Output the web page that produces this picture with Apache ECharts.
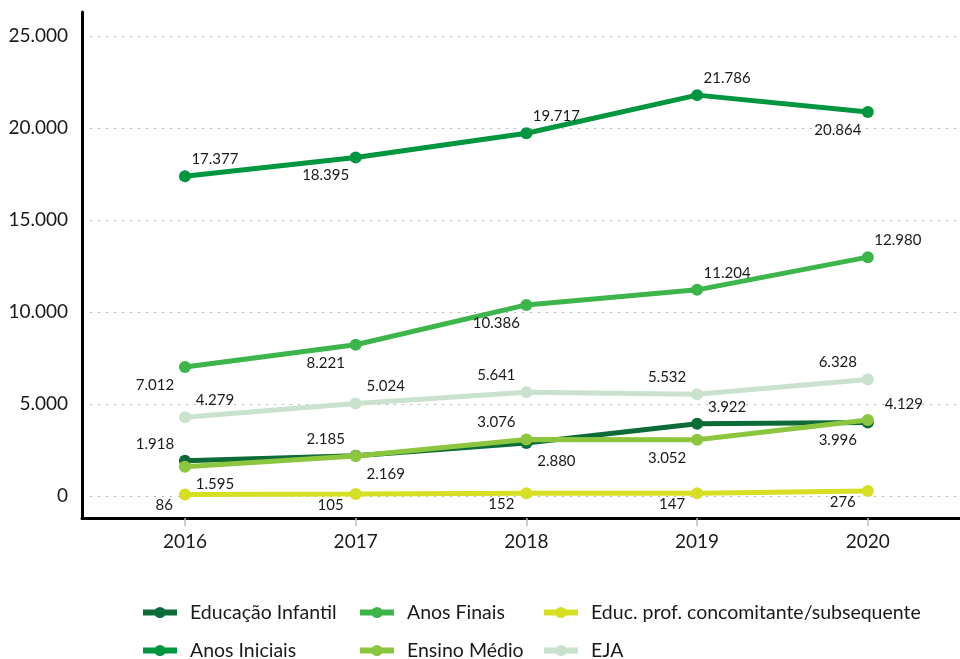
<!DOCTYPE html>
<html>
<head>
<meta charset="utf-8">
<script src="https://cdn.jsdelivr.net/npm/echarts@6/dist/echarts.min.js"></script>
<style>
  html, body { margin: 0; padding: 0; background: #fff; }
  #chart { width: 960px; height: 659px; }
</style>
</head>
<body>
<div id="chart"></div>
<script>
// Matrículas por etapa de ensino, 2016–2020
const years = [2016, 2017, 2018, 2019, 2020];
const yTicks = [0, 5000, 10000, 15000, 20000, 25000];

const educacaoInfantil = [1918, 2185, 2880, 3922, 3996];
const anosIniciais     = [17377, 18395, 19717, 21786, 20864];
const anosFinais       = [7012, 8221, 10386, 11204, 12980];
const ensinoMedio      = [1595, 2169, 3076, 3052, 4129];
const educProf         = [86, 105, 152, 147, 276];
const eja              = [4279, 5024, 5641, 5532, 6328];

const seriesNames = [
  'Educação Infantil', 'Anos Iniciais', 'Anos Finais',
  'Ensino Médio', 'Educ. prof. concomitante/subsequente', 'EJA'
];
const seriesValues = [educacaoInfantil, anosIniciais, anosFinais, ensinoMedio, educProf, eja];
const seriesColors = ['#0d6b38', '#00963f', '#3cb54a', '#8cc63f', '#d6df23', '#c9e2cd'];

// where each value label sits around its point
const labelSpots = [
  ['ul', 'ul', 'dr', 'ur', 'dl'],
  ['ur', 'dl', 'ur', 'ur', 'dl'],
  ['dl', 'dl', 'dl', 'ur', 'ur'],
  ['dr', 'dr', 'ul', 'dl', 'ur2'],
  ['bl', 'bl', 'bl', 'bl', 'bl'],
  ['ur', 'ur', 'ul', 'ul', 'ul']
];
const spotStyle = {
  ur:  { offset: [30, -17] },
  ul:  { offset: [-30, -17] },
  dr:  { offset: [30, 18] },
  dl:  { offset: [-30, 18] },
  ur2: { offset: [36, -16] },
  bl:  { offset: [-12, 11], align: 'right' }
};

const fmt = v => v.toLocaleString('de-DE');

const series = seriesNames.map((name, si) => ({
  name,
  type: 'line',
  color: seriesColors[si],
  symbol: 'circle',
  symbolSize: 12,
  lineStyle: { width: 5 },
  z: 2 + (si === 3 ? 1 : 0),
  data: seriesValues[si].map((v, i) => {
    const s = spotStyle[labelSpots[si][i]];
    return {
      value: [years[i], v],
      label: {
        show: true,
        position: 'inside',
        offset: s.offset,
        align: s.align || 'center',
        verticalAlign: 'middle',
        formatter: () => fmt(v),
        color: '#1a1a1a',
        fontSize: 15,
        fontFamily: 'Lato'
      }
    };
  })
}));

// three two-row legend columns under the plot
const legendBase = {
  orient: 'vertical',
  top: 602,
  height: 90,
  padding: 0,
  itemWidth: 34,
  itemHeight: 14,
  itemGap: 17,
  lineStyle: { width: 6 },
  textStyle: { fontFamily: 'Lato', fontSize: 19.5, lineHeight: 21, color: '#1a1a1a', padding: [0, 0, 0, 8] }
};

const chart = echarts.init(document.getElementById('chart'), null, { renderer: 'canvas' });
chart.setOption({
  animation: false,
  backgroundColor: '#fff',
  grid: { left: 82, right: 0, top: 12, bottom: 141, containLabel: false },
  legend: [
    Object.assign({ left: 140, data: [seriesNames[0], seriesNames[1]] }, legendBase),
    Object.assign({ left: 357, data: [seriesNames[2], seriesNames[3]] }, legendBase),
    Object.assign({ left: 541, data: [seriesNames[4], seriesNames[5]] }, legendBase)
  ],
  xAxis: {
    type: 'value',
    min: 2015.397,
    max: 2020.54,
    axisLine: { show: true, onZero: false, lineStyle: { color: '#000', width: 3 } },
    axisTick: { show: true, customValues: years, length: 8, lineStyle: { color: '#bdbdbd', width: 1.5 } },
    axisLabel: {
      customValues: years,
      formatter: v => String(v),
      margin: 14,
      fontFamily: 'Lato',
      fontSize: 19,
      color: '#1a1a1a'
    },
    splitLine: { show: false }
  },
  yAxis: {
    type: 'value',
    min: -1196,
    max: 26304,
    axisLine: { show: true, onZero: false, lineStyle: { color: '#000', width: 3 } },
    axisTick: { show: false, customValues: yTicks },
    axisLabel: {
      customValues: yTicks,
      formatter: v => fmt(v),
      margin: 14,
      fontFamily: 'Lato',
      fontSize: 19,
      color: '#1a1a1a'
    },
    splitLine: { show: true, lineStyle: { color: '#b8b8b8', width: 1, type: [2, 6] } }
  },
  series
});
</script>
</body>
</html>
